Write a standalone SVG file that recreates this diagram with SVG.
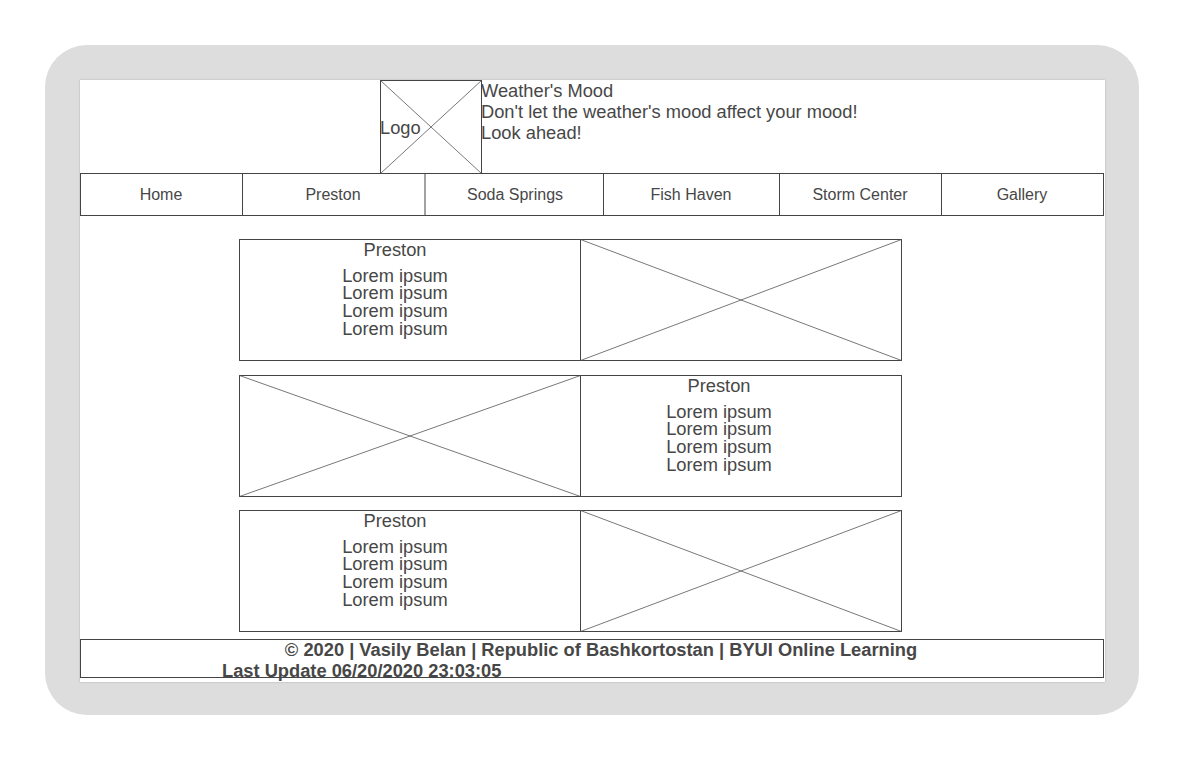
<svg xmlns="http://www.w3.org/2000/svg" width="1184" height="760" viewBox="0 0 1184 760">
  <style>
    text { font-family: "Liberation Sans", Arial, sans-serif; fill: #474747; }
    .box { fill: #fff; stroke: #444; stroke-width: 1; }
    .cross { stroke: #555; stroke-width: 0.8; fill: none; }
    .nav { font-size: 16px; text-anchor: middle; }
    .hdr { font-size: 18.3px; }
    .body { font-size: 18.3px; text-anchor: middle; }
    .foot { font-size: 18.3px; font-weight: bold; }
  </style>
  <defs>
    <filter id="shadow" x="-5%" y="-5%" width="110%" height="110%">
      <feDropShadow dx="0" dy="0" stdDeviation="1" flood-color="#000" flood-opacity="0.2"/>
    </filter>
  </defs>

  <!-- device frame -->
  <g id="frame">
    <rect x="45" y="45" width="1094" height="670" rx="42" fill="#dddddd"/>
    <rect x="80" y="80" width="1025" height="602" fill="#fff" filter="url(#shadow)"/>
  </g>

  <!-- logo placeholder -->
  <g id="logo">
    <rect class="box" x="380.5" y="80.5" width="101" height="93"/>
    <line class="cross" x1="380.5" y1="80.5" x2="481.5" y2="173.5"/>
    <line class="cross" x1="481.5" y1="80.5" x2="380.5" y2="173.5"/>
    <text class="hdr" x="380" y="134">Logo</text>
  </g>

  <!-- site title -->
  <g id="title">
    <text class="hdr" x="481" y="97">Weather's Mood</text>
    <text class="hdr" x="481" y="118">Don't let the weather's mood affect your mood!</text>
    <text class="hdr" x="481" y="139">Look ahead!</text>
  </g>

  <!-- navigation bar -->
  <g id="nav">
    <rect class="box" x="80.5" y="173.5" width="1023" height="42"/>
    <line class="box" x1="242.5" y1="173.5" x2="242.5" y2="215.5"/>
    <line class="box" x1="425" y1="173.5" x2="425" y2="215.5" stroke-width="1.5"/>
    <line class="box" x1="603.5" y1="173.5" x2="603.5" y2="215.5"/>
    <line class="box" x1="779.5" y1="173.5" x2="779.5" y2="215.5"/>
    <line class="box" x1="941.5" y1="173.5" x2="941.5" y2="215.5"/>
    <text class="nav" x="161" y="200">Home</text>
    <text class="nav" x="333" y="200">Preston</text>
    <text class="nav" x="515" y="200">Soda Springs</text>
    <text class="nav" x="691" y="200">Fish Haven</text>
    <text class="nav" x="860" y="200">Storm Center</text>
    <text class="nav" x="1022" y="200">Gallery</text>
  </g>

  <!-- content row 1 -->
  <g id="row1">
    <rect class="box" x="239.5" y="239.5" width="341" height="121"/>
    <text class="body" x="395" y="256">Preston</text>
    <text class="body" x="395" y="282">Lorem ipsum</text>
    <text class="body" x="395" y="299">Lorem ipsum</text>
    <text class="body" x="395" y="317">Lorem ipsum</text>
    <text class="body" x="395" y="335">Lorem ipsum</text>
    <rect class="box" x="580.5" y="239.5" width="321" height="121"/>
    <line class="cross" x1="580.5" y1="239.5" x2="901.5" y2="360.5"/>
    <line class="cross" x1="901.5" y1="239.5" x2="580.5" y2="360.5"/>
  </g>

  <!-- content row 2 -->
  <g id="row2">
    <rect class="box" x="239.5" y="375.5" width="341" height="121"/>
    <line class="cross" x1="239.5" y1="375.5" x2="580.5" y2="496.5"/>
    <line class="cross" x1="580.5" y1="375.5" x2="239.5" y2="496.5"/>
    <rect class="box" x="580.5" y="375.5" width="321" height="121"/>
    <text class="body" x="719" y="392">Preston</text>
    <text class="body" x="719" y="418">Lorem ipsum</text>
    <text class="body" x="719" y="435">Lorem ipsum</text>
    <text class="body" x="719" y="453">Lorem ipsum</text>
    <text class="body" x="719" y="471">Lorem ipsum</text>
  </g>

  <!-- content row 3 -->
  <g id="row3">
    <rect class="box" x="239.5" y="510.5" width="341" height="121"/>
    <text class="body" x="395" y="527">Preston</text>
    <text class="body" x="395" y="553">Lorem ipsum</text>
    <text class="body" x="395" y="570">Lorem ipsum</text>
    <text class="body" x="395" y="588">Lorem ipsum</text>
    <text class="body" x="395" y="606">Lorem ipsum</text>
    <rect class="box" x="580.5" y="510.5" width="321" height="121"/>
    <line class="cross" x1="580.5" y1="510.5" x2="901.5" y2="631.5"/>
    <line class="cross" x1="901.5" y1="510.5" x2="580.5" y2="631.5"/>
  </g>

  <!-- footer -->
  <g id="footer">
    <rect class="box" x="80.5" y="639.5" width="1023" height="38"/>
    <text class="foot" x="601" y="656" text-anchor="middle">© 2020 | Vasily Belan | Republic of Bashkortostan | BYUI Online Learning</text>
    <text class="foot" x="222" y="677">Last Update 06/20/2020 23:03:05</text>
  </g>

  <!-- no connectors in this layout -->
  <g id="connectors"/>
</svg>
